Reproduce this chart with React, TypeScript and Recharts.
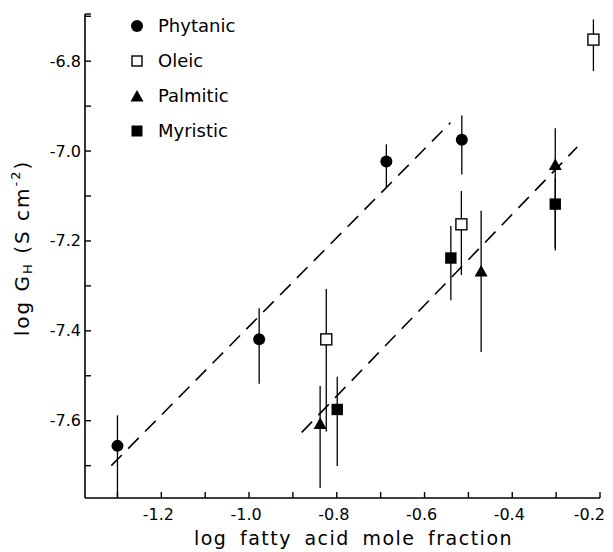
import { ScatterChart, Scatter, XAxis, YAxis, ErrorBar, Legend } from 'recharts';

// axis ticks (minor every 0.1, labels every 0.2)
const xTicks = [-1.3, -1.2, -1.1, -1.0, -0.9, -0.8, -0.7, -0.6, -0.5, -0.4, -0.3, -0.2];
const xLabels = [-1.2, -1.0, -0.8, -0.6, -0.4, -0.2];
const yTicks = [-7.7, -7.6, -7.5, -7.4, -7.3, -7.2, -7.1, -7.0, -6.9, -6.8, -6.7, -6.695];
const yLabels = [-7.6, -7.4, -7.2, -7.0, -6.8];

const seriesNames = ['Phytanic', 'Oleic', 'Palmitic', 'Myristic'];

const phytanicX = [-1.3, -0.977, -0.687, -0.515];
const phytanicY = [-7.656, -7.419, -7.023, -6.975];
const phytanicLo = [-7.772, -7.518, -7.08, -7.052];
const phytanicHi = [-7.588, -7.35, -6.985, -6.921];

const oleicX = [-0.824, -0.516, -0.215];
const oleicY = [-7.419, -7.163, -6.752];
const oleicLo = [-7.624, -7.276, -6.822];
const oleicHi = [-7.307, -7.089, -6.707];

const palmiticX = [-0.838, -0.471, -0.302];
const palmiticY = [-7.606, -7.267, -7.03];
const palmiticLo = [-7.75, -7.447, -7.221];
const palmiticHi = [-7.523, -7.133, -6.949];

const myristicX = [-0.799, -0.54, -0.302];
const myristicY = [-7.575, -7.238, -7.118];
const myristicLo = [-7.701, -7.332, -7.215];
const myristicHi = [-7.502, -7.167, -7.06];

// dashed fit lines (end points)
const fitUpperX = [-1.314, -0.541];
const fitUpperY = [-7.7, -6.937];
const fitLowerX = [-0.88, -0.252];
const fitLowerY = [-7.626, -6.991];

const FONT = '"DejaVu Sans", sans-serif';

const toPoints = (xs: number[], ys: number[], lo: number[], hi: number[]) =>
  xs.map((x, i) => ({ x, y: ys[i], err: [ys[i] - lo[i], hi[i] - ys[i]] }));

const toLine = (xs: number[], ys: number[]) => xs.map((x, i) => ({ x, y: ys[i] }));

const phytanic = toPoints(phytanicX, phytanicY, phytanicLo, phytanicHi);
const oleic = toPoints(oleicX, oleicY, oleicLo, oleicHi);
const palmitic = toPoints(palmiticX, palmiticY, palmiticLo, palmiticHi);
const myristic = toPoints(myristicX, myristicY, myristicLo, myristicHi);

const isMajor = (list: number[], v: number) => list.some((l) => Math.abs(l - v) < 1e-6);

const CircleDot = (p: any) => <circle cx={p.cx} cy={p.cy} r={6} fill="#000" />;
const OpenSquare = (p: any) => (
  <rect x={p.cx - 5.5} y={p.cy - 5.5} width={11} height={11} fill="#fff" stroke="#000" strokeWidth={1.4} />
);
const FilledSquare = (p: any) => <rect x={p.cx - 5.7} y={p.cy - 5.7} width={11.4} height={11.4} fill="#000" />;
const Triangle = (p: any) => (
  <path d={`M${p.cx},${p.cy - 6} L${p.cx + 6.5},${p.cy + 5.5} L${p.cx - 6.5},${p.cy + 5.5} Z`} fill="#000" />
);
const NoDot = () => <g />;

const YTick = ({ x, y, payload }: any) => {
  const v = payload.value;
  return (
    <g>
      <line x1={x + 4} x2={x + 10} y1={y} y2={y} stroke="#000" strokeWidth={1.4} />
      {isMajor(yLabels, v) && (
        <text x={x} y={y} textAnchor="end" dominantBaseline="central" fontSize={16} fontFamily={FONT} fill="#000">
          {v.toFixed(1)}
        </text>
      )}
    </g>
  );
};

const XTick = ({ x, y, payload }: any) => {
  const v = payload.value;
  const last = Math.abs(v - xLabels[xLabels.length - 1]) < 1e-6;
  return (
    <g>
      <line x1={x} x2={x} y1={y} y2={y - 6} stroke="#000" strokeWidth={1.4} />
      {isMajor(xLabels, v) && (
        <text
          x={last ? x + 5 : x - 3}
          y={y + 16}
          textAnchor={last ? 'end' : 'middle'}
          dominantBaseline="central"
          fontSize={16}
          fontFamily={FONT}
          fill="#000"
        >
          {v.toFixed(1)}
        </text>
      )}
    </g>
  );
};

const YTitle = ({ viewBox }: any) => {
  const cy = viewBox.y + viewBox.height / 2 - 8;
  return (
    <text
      transform={`translate(14, ${cy}) rotate(-90)`}
      textAnchor="middle"
      dominantBaseline="central"
      fontSize={20}
      fontFamily={FONT}
      letterSpacing={2}
      fill="#000"
    >
      log  G
      <tspan fontSize={13} dy={5}>H</tspan>
      <tspan dy={-5}>  (S cm</tspan>
      <tspan fontSize={13} dy={-7}>-2</tspan>
      <tspan dy={7}>)</tspan>
    </text>
  );
};

const XTitle = ({ viewBox }: any) => (
  <text
    x={viewBox.x + viewBox.width / 2 + 11}
    y={viewBox.y + 40}
    textAnchor="middle"
    dominantBaseline="central"
    fontSize={19}
    fontFamily={FONT}
    letterSpacing={1.5}
    wordSpacing={5}
    fill="#000"
  >
    log fatty acid mole fraction
  </text>
);

const legendIcons = [
  <circle cx={9} cy={9} r={6} fill="#000" />,
  <rect x={4} y={4} width={10} height={10} fill="#fff" stroke="#000" strokeWidth={1.4} />,
  <path d="M9,3 L15.5,14.5 L2.5,14.5 Z" fill="#000" />,
  <rect x={3.5} y={3.5} width={11} height={11} fill="#000" />,
];

const LegendBox = () => (
  <div style={{ fontFamily: FONT, fontSize: 18, color: '#000' }}>
    {seriesNames.map((name, i) => (
      <div key={name} style={{ display: 'flex', alignItems: 'center', height: 35 }}>
        <svg width={18} height={18} style={{ marginRight: 12 }}>
          {legendIcons[i]}
        </svg>
        <span>{name}</span>
      </div>
    ))}
  </div>
);

export default function App() {
  return (
    <ScatterChart width={605} height={544} margin={{ top: 6, right: 13, bottom: 0, left: 0 }}>
      <XAxis
        type="number"
        dataKey="x"
        domain={[-1.374, -0.2]}
        ticks={xTicks}
        interval={0}
        allowDataOverflow
        height={54}
        tickSize={0}
        tickMargin={0}
        tickLine={false}
        axisLine={{ stroke: '#000', strokeWidth: 1.6 }}
        tick={<XTick />}
        label={<XTitle />}
      />
      <YAxis
        type="number"
        dataKey="y"
        domain={[-7.772, -6.695]}
        ticks={yTicks}
        interval={0}
        allowDataOverflow
        width={77}
        tickSize={0}
        tickMargin={4}
        tickLine={false}
        axisLine={{ stroke: '#000', strokeWidth: 1.6 }}
        tick={<YTick />}
        label={<YTitle />}
      />
      <Legend
        layout="vertical"
        align="center"
        verticalAlign="middle"
        wrapperStyle={{ top: 0, left: 120, width: 'auto', height: 'auto' }}
        content={<LegendBox />}
      />
      <Scatter
        name="fit1"
        data={toLine(fitUpperX, fitUpperY)}
        fill="#000"
        shape={<NoDot />}
        line={{ stroke: '#000', strokeWidth: 1.6, strokeDasharray: '15 9' }}
        isAnimationActive={false}
      />
      <Scatter
        name="fit2"
        data={toLine(fitLowerX, fitLowerY)}
        fill="#000"
        shape={<NoDot />}
        line={{ stroke: '#000', strokeWidth: 1.6, strokeDasharray: '15 9' }}
        isAnimationActive={false}
      />
      <Scatter name="Phytanic" data={phytanic} fill="#000" shape={<CircleDot />} isAnimationActive={false}>
        <ErrorBar dataKey="err" direction="y" width={0} stroke="#000" strokeWidth={1.3} isAnimationActive={false} />
      </Scatter>
      <Scatter name="Oleic" data={oleic} fill="#000" shape={<OpenSquare />} isAnimationActive={false}>
        <ErrorBar dataKey="err" direction="y" width={0} stroke="#000" strokeWidth={1.3} isAnimationActive={false} />
      </Scatter>
      <Scatter name="Palmitic" data={palmitic} fill="#000" shape={<Triangle />} isAnimationActive={false}>
        <ErrorBar dataKey="err" direction="y" width={0} stroke="#000" strokeWidth={1.3} isAnimationActive={false} />
      </Scatter>
      <Scatter name="Myristic" data={myristic} fill="#000" shape={<FilledSquare />} isAnimationActive={false}>
        <ErrorBar dataKey="err" direction="y" width={0} stroke="#000" strokeWidth={1.3} isAnimationActive={false} />
      </Scatter>
    </ScatterChart>
  );
}
